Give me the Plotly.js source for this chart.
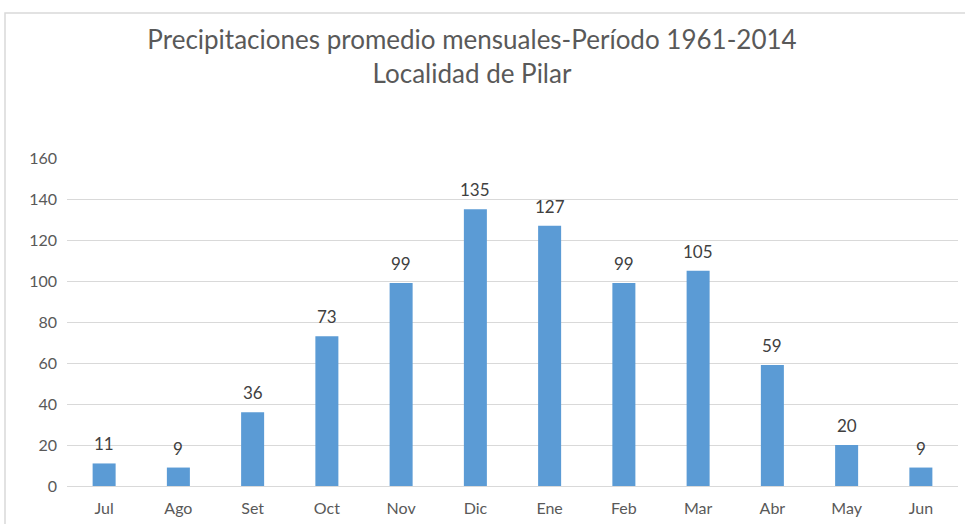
<!DOCTYPE html>
<html>
<head>
<meta charset="utf-8">
<script src="https://cdn.plot.ly/plotly-3.0.1.min.js"></script>
<style>html,body{margin:0;padding:0;background:#fff;}#chart{width:965px;height:524px;}</style>
</head>
<body>
<div id="chart"></div>
<script>
const months = ["Jul","Ago","Set","Oct","Nov","Dic","Ene","Feb","Mar","Abr","May","Jun"];
const precip = [11, 9, 36, 73, 99, 135, 127, 99, 105, 59, 20, 9];
const yTicks = [0, 20, 40, 60, 80, 100, 120, 140, 160];

const FONT = "Lato, 'Open Sans', sans-serif";

const trace = {
  type: "bar",
  x: months,
  y: precip,
  width: 0.31,
  marker: {color: "#5B9BD5"},
  hoverinfo: "none"
};

const labels = months.map((m, i) => ({
  x: m, y: precip[i], xref: "x", yref: "y",
  text: String(precip[i]),
  showarrow: false,
  yanchor: "bottom",
  yshift: 7,
  font: {family: FONT, size: 17, color: "#404040"}
}));

const L = 67, R = 7, T = 158, B = 38, W = 965, H = 524;
const pw = W - L - R, ph = H - T - B;
const layout = {
  width: W, height: H,
  margin: {l: L, r: R, t: T, b: B},
  paper_bgcolor: "#fff", plot_bgcolor: "#fff",
  showlegend: false,
  title: {
    text: "Precipitaciones promedio mensuales-Período 1961-2014<br>Localidad de Pilar",
    font: {family: FONT, size: 26, color: "#595959"},
    x: 472 / W, xanchor: "center",
    y: 1 - 49 / H, yanchor: "middle"
  },
  xaxis: {
    type: "category",
    showgrid: false, zeroline: false, showline: false,
    ticks: "",
    tickfont: {family: FONT, size: 16, color: "#595959"},
    ticklabelstandoff: 11
  },
  yaxis: {
    range: [0, 160],
    tickvals: yTicks,
    showgrid: true, gridcolor: "#D9D9D9", gridwidth: 1,
    zeroline: true, zerolinecolor: "#D9D9D9", zerolinewidth: 1,
    showline: false, ticks: "",
    tickfont: {family: FONT, size: 16, color: "#595959"},
    ticklabelstandoff: 9
  },
  annotations: labels,
  shapes: [{
    type: "rect", xref: "paper", yref: "paper",
    x0: (5 - L) / pw, x1: (970 - L) / pw,
    y0: -(540 - (H - B)) / ph, y1: ((H - B) - 13) / ph,
    line: {color: "#D9D9D9", width: 1.5}, fillcolor: "rgba(0,0,0,0)", layer: "below"
  }]
};

Plotly.newPlot("chart", [trace], layout, {displayModeBar: false, staticPlot: true});
</script>
</body>
</html>
